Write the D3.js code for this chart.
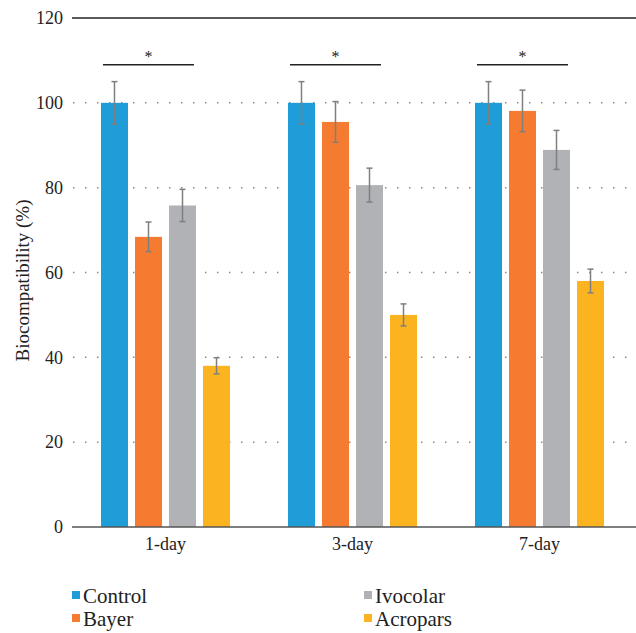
<!DOCTYPE html>
<html>
<head>
<meta charset="utf-8">
<script src="https://cdn.jsdelivr.net/npm/d3@7"></script>
<style>
  body { margin: 0; background: #fff; }
  svg text { font-family: 'Liberation Serif', 'DejaVu Serif', 'Times New Roman', serif; }
</style>
</head>
<body>
<div id="graf"></div>
<script>
// datos
const days = ["1-day", "3-day", "7-day"];
const series = ["Control", "Bayer", "Ivocolar", "Acropars"];
const colors = ["#1f9dd8", "#f47b30", "#b1b2b5", "#fbb41f"];
const valControl = [100, 100, 100];
const valBayer = [68.4, 95.5, 98.1];
const valIvocolar = [75.8, 80.6, 88.9];
const valAcropars = [38, 50, 58];
const errControl = [5, 5, 5];
const errBayer = [3.5, 4.8, 4.9];
const errIvocolar = [3.8, 4, 4.6];
const errAcropars = [1.9, 2.6, 2.8];
const yTicks = [0, 20, 40, 60, 80, 100, 120];
const sigLevel = 109; // altura de la linea de significancia

const values = [valControl, valBayer, valIvocolar, valAcropars];
const errors = [errControl, errBayer, errIvocolar, errAcropars];

const FONT = "'Liberation Serif', 'DejaVu Serif', serif";
const width = 636, height = 633;
const margin = { top: 18, right: 3, bottom: 106, left: 72 };

const svg = d3.select("#graf").append("svg")
  .attr("width", width)
  .attr("height", height)
  .attr("font-family", FONT);

// escaladores
const x0 = d3.scaleBand().domain(days)
  .range([margin.left, width - margin.right])
  .paddingInner(0.31).paddingOuter(0.155);
const x1 = d3.scaleBand().domain(series)
  .range([0, x0.bandwidth()])
  .paddingInner(7 / 34);
const y = d3.scaleLinear().domain([0, 120]).range([height - margin.bottom, margin.top]);

// lineas de guia punteadas
svg.append("g").selectAll("line")
  .data(yTicks.filter(d => d > 0 && d < 120))
  .join("line")
  .attr("x1", margin.left + 1)
  .attr("x2", width)
  .attr("y1", d => y(d))
  .attr("y2", d => y(d))
  .attr("stroke", "#8a8a8a")
  .attr("stroke-width", 1.5)
  .attr("stroke-dasharray", "1.5,10.5");

// linea superior en 120
svg.append("line")
  .attr("x1", margin.left).attr("x2", width)
  .attr("y1", y(120)).attr("y2", y(120))
  .attr("stroke", "#222").attr("stroke-width", 1.5);

// eje y (solo etiquetas)
const yAxis = svg.append("g")
  .attr("transform", `translate(${margin.left},0)`)
  .call(d3.axisLeft(y).tickValues(yTicks).tickSize(0).tickPadding(9));
yAxis.attr("font-family", FONT).attr("font-size", 18);
yAxis.select(".domain").remove();
yAxis.selectAll("text")
  .attr("font-family", FONT)
  .attr("font-size", 18)
  .attr("fill", "#222");

// barras
const rows = [];
days.forEach((d, i) => series.forEach((s, j) => {
  rows.push({ day: d, serie: s, v: values[j][i], e: errors[j][i], c: colors[j] });
}));

const grp = svg.append("g");
grp.selectAll("rect")
  .data(rows)
  .join("rect")
  .attr("x", d => x0(d.day) + x1(d.serie))
  .attr("y", d => y(d.v))
  .attr("width", x1.bandwidth())
  .attr("height", d => y(0) - y(d.v))
  .attr("fill", d => d.c);

// barras de error
const eb = svg.append("g").attr("stroke", "#7f7f7f").attr("stroke-width", 1.5);
rows.forEach(d => {
  const cx = x0(d.day) + x1(d.serie) + x1.bandwidth() / 2;
  eb.append("line").attr("x1", cx).attr("x2", cx)
    .attr("y1", y(d.v + d.e)).attr("y2", y(d.v - d.e));
  eb.append("line").attr("x1", cx - 3).attr("x2", cx + 3)
    .attr("y1", y(d.v + d.e)).attr("y2", y(d.v + d.e));
  eb.append("line").attr("x1", cx - 3).attr("x2", cx + 3)
    .attr("y1", y(d.v - d.e)).attr("y2", y(d.v - d.e));
});

// eje x
svg.append("line")
  .attr("x1", margin.left).attr("x2", width)
  .attr("y1", y(0)).attr("y2", y(0))
  .attr("stroke", "#555").attr("stroke-width", 1.5);
svg.append("g").selectAll("text")
  .data(days)
  .join("text")
  .attr("x", d => x0(d) + x0.bandwidth() / 2)
  .attr("y", y(0) + 23)
  .attr("text-anchor", "middle")
  .attr("font-size", 18)
  .attr("fill", "#222")
  .text(d => d);

// significancia
const sig = svg.append("g");
days.forEach(d => {
  const xa = x0(d) + x1("Control") + 2;
  const xb = x0(d) + x1("Ivocolar") + x1.bandwidth() - 2;
  sig.append("line")
    .attr("x1", xa).attr("x2", xb)
    .attr("y1", y(sigLevel)).attr("y2", y(sigLevel))
    .attr("stroke", "#222").attr("stroke-width", 1.5);
  sig.append("text")
    .attr("x", (xa + xb) / 2)
    .attr("y", y(sigLevel) - 3)
    .attr("text-anchor", "middle")
    .attr("font-size", 16)
    .attr("fill", "#222")
    .text("*");
});

// titulo eje y
svg.append("text")
  .attr("transform", `translate(29,${(y(0) + y(120)) / 2 + 8}) rotate(-90)`)
  .attr("text-anchor", "middle")
  .attr("font-size", 19)
  .attr("fill", "#222")
  .text("Biocompatibility (%)");

// leyenda
const legPos = [[72, 599], [72, 622], [364, 599], [364, 622]];
const leg = svg.append("g");
series.forEach((s, j) => {
  const [lx, ly] = legPos[j];
  leg.append("rect")
    .attr("x", lx).attr("y", ly - 8)
    .attr("width", 8).attr("height", 8)
    .attr("fill", colors[j]);
  leg.append("text")
    .attr("x", lx + 11).attr("y", ly + 4)
    .attr("font-size", 21)
    .attr("fill", "#222")
    .text(s);
});
</script>
</body>
</html>
